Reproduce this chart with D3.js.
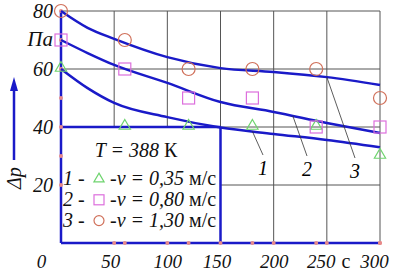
<!DOCTYPE html>
<html>
<head>
<meta charset="utf-8">
<script src="https://cdn.jsdelivr.net/npm/d3@7"></script>
<style>
  body { margin: 0; background: #fff; }
</style>
</head>
<body>
<svg id="chart" width="397" height="279"></svg>
<script>
// measured points
const times = [0, 60, 120, 180, 240, 300];
const tri = [60, 40, 40, 40, 40, 30];     // v = 0,35
const sq = [70, 60, 50, 50, 40, 40];      // v = 0,80
const circ = [80, 70, 60, 60, 60, 50];    // v = 1,30

// fitted curves
const curveT = [0, 25, 50, 100, 150, 200, 250, 300];
const curve1 = [60, 53.4, 48.3, 43.4, 39.8, 37.6, 35.5, 33];
const curve2 = [70, 65.5, 61.4, 55.2, 48.6, 45.2, 41.4, 37.9];
const curve3 = [80, 74.2, 70.4, 64.1, 60.3, 59, 57.2, 54.5];

const xTicks = [0, 50, 100, 150, 200, 250, 300];
const yTicks = [20, 40, 60, 80];

const blue = "#1a1ac8", grid = "#555";
const cTri = "#6fd46f", cSq = "#dd6fdd", cCirc = "#d0705a", dot = "#e88a8a";
const serif = "Liberation Serif";

const svg = d3.select("#chart");
const x = d3.scaleLinear().domain([0, 300]).range([61, 380]);
const y = d3.scaleLinear().domain([0, 80]).range([243, 11]);

function line(x1, y1, x2, y2, color, w) {
    svg.append("line")
        .attr("x1", x1).attr("y1", y1).attr("x2", x2).attr("y2", y2)
        .attr("stroke", color).attr("stroke-width", w);
}

// grid
line(x(0), y(80), x(300), y(80), grid, 1);
line(x(0), y(60), x(300), y(60), grid, 1);
line(x(150), y(40), x(300), y(40), grid, 1);
line(x(150), y(20), x(300), y(20), grid, 1);
[50, 100, 150].forEach(t => line(x(t), y(80), x(t), y(40), grid, 1));
[200, 250, 300].forEach(t => line(x(t), y(80), x(t), y(0), grid, 1));

// legend box + axes
line(x(0), y(40), x(150), y(40), blue, 2.5);
line(x(150), y(40), x(150), y(0), blue, 2.5);
line(x(0), y(80), x(0), y(0), blue, 2.5);
line(x(0), y(0), x(300), y(0), blue, 2.5);

// little marks on axes
const yMarks = d3.range(20, 90, 10);
svg.selectAll(".ym").data(yMarks).join("circle")
    .attr("cx", x(0)).attr("cy", d => y(d)).attr("r", 2).attr("fill", dot);
const xMarks = xTicks.concat(times).filter(d => d > 0);
svg.selectAll(".xm").data(xMarks).join("circle")
    .attr("cx", d => x(d)).attr("cy", y(0)).attr("r", 2).attr("fill", dot);

// curves
const gen = d3.line().x(d => x(d[0])).y(d => y(d[1])).curve(d3.curveMonotoneX);
[curve1, curve2, curve3].forEach(c => {
    svg.append("path")
        .attr("d", gen(curveT.map((t, i) => [t, c[i]])))
        .attr("fill", "none").attr("stroke", blue).attr("stroke-width", 2.5);
});

// markers
const triPath = d3.symbol().type(d3.symbolTriangle).size(55);
svg.selectAll(".tri").data(times).join("path")
    .attr("d", triPath).attr("transform", (d, i) => `translate(${x(d)},${y(tri[i]) - 1})`)
    .attr("fill", "none").attr("stroke", cTri).attr("stroke-width", 1.2);
svg.selectAll(".sq").data(times).join("rect")
    .attr("x", d => x(d) - 6).attr("y", (d, i) => y(sq[i]) - 6)
    .attr("width", 12).attr("height", 12)
    .attr("fill", "none").attr("stroke", cSq).attr("stroke-width", 1.2);
svg.selectAll(".ci").data(times).join("circle")
    .attr("cx", d => x(d)).attr("cy", (d, i) => y(circ[i])).attr("r", 6.5)
    .attr("fill", "none").attr("stroke", cCirc).attr("stroke-width", 1.2);

// leader lines + curve numbers
const leaders = [
    { n: "1", t: 180, v: curve1, tx: 263, ty: 175 },
    { n: "2", t: 218, v: curve2, tx: 307, ty: 176 },
    { n: "3", t: 250, v: curve3, tx: 355, ty: 178 }
];
leaders.forEach(l => {
    const yv = d3.scaleLinear().domain(curveT).range(l.v)(l.t);
    line(x(l.t), y(yv), l.tx, l.ty - 20, "#333", 0.8);
    svg.append("text").attr("x", l.tx).attr("y", l.ty)
        .attr("text-anchor", "middle").attr("font-family", serif).attr("font-style", "italic")
        .attr("font-size", 20).text(l.n);
});

// axis labels
const labelShift = { 0: -20, 50: -4, 100: 0, 150: -4, 200: 0, 250: -6, 300: -6 };
const xAxis = svg.append("g")
    .attr("transform", `translate(0,${y(0)})`)
    .call(d3.axisBottom(x).tickValues(xTicks).tickSize(0).tickPadding(12));
xAxis.attr("font-family", serif);
xAxis.select(".domain").remove();
xAxis.selectAll("text")
    .attr("font-style", "italic")
    .attr("font-size", 19).attr("fill", "#111")
    .attr("dx", d => labelShift[d]);
svg.append("text").attr("x", 346).attr("y", 268).attr("text-anchor", "middle")
    .attr("font-family", serif).attr("font-size", 20).attr("fill", "#111").text("с");

const yAxis = svg.append("g")
    .attr("transform", `translate(${x(0)},0)`)
    .call(d3.axisLeft(y).tickValues(yTicks).tickSize(0).tickPadding(8));
yAxis.attr("font-family", serif);
yAxis.select(".domain").remove();
yAxis.selectAll("text")
    .attr("font-style", "italic")
    .attr("font-size", 20).attr("fill", "#111");
svg.append("text").attr("x", 53).attr("y", y(70) + 6).attr("text-anchor", "end")
    .attr("font-family", serif).attr("font-style", "italic").attr("font-size", 21)
    .attr("fill", "#111").text("Па");

// Δp with arrow
svg.append("line").attr("x1", 14).attr("y1", 160).attr("x2", 14).attr("y2", 88)
    .attr("stroke", blue).attr("stroke-width", 2.5);
svg.append("path").attr("d", "M14,77 L10,91 L18,91 Z").attr("fill", blue);
svg.append("text").attr("transform", "translate(21,178) rotate(-90)")
    .attr("text-anchor", "middle").attr("font-family", serif).attr("font-style", "italic")
    .attr("font-size", 20).attr("fill", "#111").text("Δp");

// legend
const legend = svg.append("g").attr("font-family", serif);
const lt = legend.append("text").attr("x", 136).attr("y", 157).attr("text-anchor", "middle")
    .attr("font-size", 20).attr("fill", "#111");
lt.append("tspan").attr("font-style", "italic").text("T = 388 ");
lt.append("tspan").text("К");

const legRows = [
    { n: "1", v: "0,35", mark: "tri", c: cTri },
    { n: "2", v: "0,80", mark: "sq", c: cSq },
    { n: "3", v: "1,30", mark: "ci", c: cCirc }
];
legRows.forEach((r, i) => {
    const yy = 185 + i * 20.8;
    legend.append("text").attr("x", 63).attr("y", yy)
        .attr("font-style", "italic").attr("font-size", 20).attr("fill", "#111").text(r.n + " -");
    if (r.mark === "tri") {
        legend.append("path").attr("d", d3.symbol().type(d3.symbolTriangle).size(45))
            .attr("transform", `translate(99,${yy - 6})`)
            .attr("fill", "none").attr("stroke", r.c).attr("stroke-width", 1.2);
    } else if (r.mark === "sq") {
        legend.append("rect").attr("x", 94).attr("y", yy - 11).attr("width", 10).attr("height", 10)
            .attr("fill", "none").attr("stroke", r.c).attr("stroke-width", 1.2);
    } else {
        legend.append("circle").attr("cx", 99).attr("cy", yy - 6).attr("r", 5)
            .attr("fill", "none").attr("stroke", r.c).attr("stroke-width", 1.2);
    }
    const t = legend.append("text").attr("x", 110).attr("y", yy)
        .attr("font-size", 20).attr("fill", "#111");
    t.append("tspan").attr("font-style", "italic").text("-v = " + r.v + " ");
    t.append("tspan").text("м/с");
});
</script>
</body>
</html>
